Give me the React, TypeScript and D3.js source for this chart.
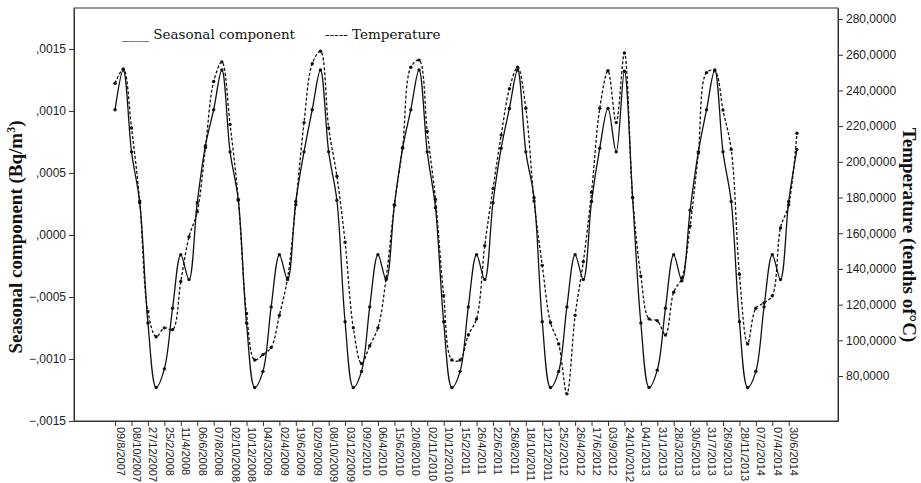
import React, { useEffect, useRef } from 'react';
import * as d3 from 'd3';

// one label for every second sample
const dateLabels = [
    '09/8/2007', '08/10/2007', '27/12/2007', '25/2/2008', '11/4/2008', '06/6/2008', '07/8/2008',
    '02/10/2008', '10/12/2008', '04/3/2009', '02/4/2009', '19/6/2009', '02/9/2009', '08/10/2009',
    '03/12/2009', '09/2/2010', '06/4/2010', '15/6/2010', '20/8/2010', '02/11/2010', '10/12/2010',
    '15/2/2011', '26/4/2011', '22/6/2011', '26/8/2011', '18/10/2011', '12/12/2011', '25/2/2012',
    '26/4/2012', '17/6/2012', '03/9/2012', '24/10/2012', '04/1/2013', '31/1/2013', '28/3/2013',
    '30/5/2013', '31/7/2013', '26/9/2013', '28/11/2013', '07/2/2014', '07/4/2014', '30/6/2014',
];

const seasonal = [
    0.00101, 0.00133, 0.00067, 0.00026, -0.00071, -0.00123, -0.00108, -0.00059, -0.00016, -0.00036, 0.00026, 0.00072,
    0.00101, 0.00133, 0.00067, 0.00028, -0.00071, -0.00123, -0.00110, -0.00058, -0.00016, -0.00036, 0.00027, 0.00067,
    0.00101, 0.00133, 0.00067, 0.00028, -0.00070, -0.00123, -0.00110, -0.00058, -0.00016, -0.00036, 0.00024, 0.00070,
    0.00101, 0.00133, 0.00067, 0.00022, -0.00070, -0.00123, -0.00110, -0.00058, -0.00016, -0.00036, 0.00026, 0.00070,
    0.00102, 0.00133, 0.00067, 0.00030, -0.00070, -0.00123, -0.00110, -0.00058, -0.00016, -0.00036, 0.00027, 0.00070,
    0.00102, 0.00067, 0.00132, 0.00030, -0.00071, -0.00123, -0.00109, -0.00059, -0.00016, -0.00037, 0.00020, 0.00067,
    0.00101, 0.00133, 0.00067, 0.00027, -0.00070, -0.00123, -0.00110, -0.00058, -0.00016, -0.00036, 0.00027, 0.00069,
];

const temperature = [
    244, 252, 219, 178, 116, 102, 107, 106, 133, 158, 172, 208,
    245, 256, 221, 179, 115, 89, 92, 96, 114, 135, 176, 222,
    255, 262, 219, 192, 155, 107, 87, 97, 107, 135, 176, 208,
    253, 257, 217, 179, 125, 89, 89, 103, 112, 153, 185, 215,
    241, 253, 230, 178, 142, 110, 98, 70, 114, 144, 183, 230,
    251, 222, 261, 180, 136, 112, 111, 103, 127, 135, 164, 205,
    250, 251, 229, 207, 137, 98, 118, 121, 125, 163, 176, 216,
];

const leftTicks = [-0.0015, -0.001, -0.0005, 0, 0.0005, 0.001, 0.0015];
const rightTicks = [80, 100, 120, 140, 160, 180, 200, 220, 240, 260, 280];

const width = 921;
const height = 483;
const margin = { top: 8, right: 83, bottom: 62, left: 74 };

const Chart = () => {
    const svgRef = useRef<SVGSVGElement>(null);

    useEffect(() => {
        const svg = d3.select(svgRef.current);
        svg.selectAll('*').remove();

        const left = margin.left;
        const right = width - margin.right;
        const top = margin.top;
        const bottom = height - margin.bottom;

        const x = d3.scalePoint<number>()
            .domain(d3.range(seasonal.length))
            .range([left, right])
            .padding(5);

        const yL = d3.scaleLinear().domain([-0.0015, 0.00183]).range([bottom, top]);
        const yR = d3.scaleLinear().domain([54.8, 286.2]).range([bottom, top]);

        const tickFont = '"Liberation Sans", Arial, sans-serif';

        svg.append('rect')
            .attr('x', left)
            .attr('y', top)
            .attr('width', right - left)
            .attr('height', bottom - top)
            .attr('fill', 'none')
            .attr('stroke', '#333')
            .attr('stroke-width', 1);

        const fmtL = (d: number) => d3.format('.4f')(d).replace('0.', ',');
        const fmtR = (d: number) => d3.format('.4f')(d).replace('.', ',');

        const gL = svg.append('g')
            .attr('transform', `translate(${left},0)`)
            .call(d3.axisLeft(yL).tickValues(leftTicks).tickFormat(fmtL as any).tickSize(5).tickSizeOuter(0));
        const gR = svg.append('g')
            .attr('transform', `translate(${right},0)`)
            .call(d3.axisRight(yR).tickValues(rightTicks).tickFormat(fmtR as any).tickSize(5).tickSizeOuter(0));
        const labelled = dateLabels.map((_, k) => k * 2);
        const gB = svg.append('g')
            .attr('transform', `translate(0,${bottom})`)
            .call(d3.axisBottom(x).tickValues(labelled).tickFormat(((i: number) => dateLabels[i / 2]) as any).tickSize(5).tickSizeOuter(0));

        [gL, gR, gB].forEach(g => {
            g.select('.domain').attr('stroke', '#333');
            g.selectAll('.tick line').attr('stroke', '#333');
            g.selectAll('.tick text')
                .attr('font-family', tickFont)
                .attr('font-size', 12)
                .attr('fill', '#222');
        });

        gB.selectAll('.tick text')
            .attr('transform', 'rotate(90)')
            .attr('text-anchor', 'start')
            .attr('font-size', 11)
            .attr('x', 6)
            .attr('y', -1)
            .attr('dy', 0);

        const lineSeason = d3.line<number>()
            .x((_, i) => x(i) as number)
            .y(d => yL(d))
            .curve(d3.curveCatmullRom);
        const lineTemp = d3.line<number>()
            .x((_, i) => x(i) as number)
            .y(d => yR(d))
            .curve(d3.curveCatmullRom);

        svg.append('path')
            .attr('d', lineTemp(temperature))
            .attr('fill', 'none')
            .attr('stroke', '#111')
            .attr('stroke-width', 1.3)
            .attr('stroke-dasharray', '3,2');

        svg.append('path')
            .attr('d', lineSeason(seasonal))
            .attr('fill', 'none')
            .attr('stroke', '#111')
            .attr('stroke-width', 1.3);

        svg.append('g').selectAll('circle')
            .data(temperature)
            .enter()
            .append('circle')
            .attr('cx', (_, i) => x(i) as number)
            .attr('cy', d => yR(d))
            .attr('r', 1.7)
            .attr('fill', '#111');

        svg.append('g').selectAll('circle')
            .data(seasonal)
            .enter()
            .append('circle')
            .attr('cx', (_, i) => x(i) as number)
            .attr('cy', d => yL(d))
            .attr('r', 1.7)
            .attr('fill', '#111');

        const serif = '"DejaVu Serif", serif';
        svg.append('text')
            .attr('x', 122)
            .attr('y', 39)
            .attr('font-family', serif)
            .attr('font-size', 13.5)
            .attr('fill', '#111')
            .text('____ Seasonal component');
        svg.append('text')
            .attr('x', 325)
            .attr('y', 39)
            .attr('font-family', serif)
            .attr('font-size', 13.5)
            .attr('fill', '#111')
            .text('----- Temperature');

        const titleFont = '"Liberation Serif", "Times New Roman", serif';
        const tl = svg.append('text')
            .attr('transform', `translate(22,237) rotate(-90)`)
            .attr('text-anchor', 'middle')
            .attr('font-family', titleFont)
            .attr('font-weight', 'bold')
            .attr('font-size', 19)
            .attr('fill', '#111');
        tl.append('tspan').text('Seasonal component (Bq/m');
        tl.append('tspan').attr('font-size', 12).attr('dy', -7).text('3');
        tl.append('tspan').attr('dy', 7).text(')');

        svg.append('text')
            .attr('transform', `translate(903,235) rotate(90)`)
            .attr('text-anchor', 'middle')
            .attr('font-family', titleFont)
            .attr('font-weight', 'bold')
            .attr('font-size', 19)
            .attr('fill', '#111')
            .text('Temperature (tenths of°C)');
    }, []);

    return <svg ref={svgRef} width={width} height={height} style={{ display: 'block' }}></svg>;
};

const App = () => {
    return (
        <div style={{ position: 'absolute', left: 0, top: 0, background: '#fff' }}>
            <Chart />
        </div>
    );
};

export default App;
